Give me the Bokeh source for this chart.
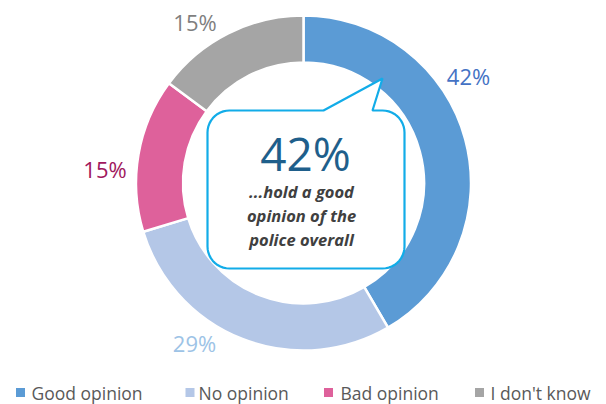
import numpy as np
from bokeh.plotting import figure
from bokeh.models import Range1d, ColumnDataSource
from bokeh.core.properties import value
from bokeh.embed import file_html
from bokeh.resources import INLINE

# ---- data ----
categories = ["Good opinion", "No opinion", "Bad opinion", "I don't know"]
values = [42, 29, 15, 15]
labels = ["42%", "29%", "15%", "15%"]
slice_colors = ["#5B9BD5", "#B4C7E7", "#DE619B", "#A5A5A5"]
label_colors = ["#4472C4", "#9DC3E6", "#A0185E", "#7F7F7F"]
headline = "42%"
caption_lines = ["...hold a good", "opinion of the", "police overall"]

W, H = 606, 404
def Y(py):  # pixel-from-top -> data y
    return H - py

p = figure(width=W, height=H, x_range=Range1d(0, W), y_range=Range1d(0, H),
           output_backend="svg", toolbar_location=None,
           x_axis_location=None, y_axis_location=None, min_border=0)
p.outline_line_color = None
p.xgrid.visible = False
p.ygrid.visible = False
p.background_fill_color = "white"

# ---- donut ----
cx, cy = 303, Y(182.5)
r_out, r_in = 167.5, 120.5
vals = np.array(values, dtype=float)
frac = vals / vals.sum()
cum = np.concatenate([[0], np.cumsum(frac)])
start = np.pi / 2 - cum[:-1] * 2 * np.pi
end = np.pi / 2 - cum[1:] * 2 * np.pi
src = ColumnDataSource(dict(start=start, end=end, color=slice_colors, cat=categories))
p.annular_wedge(x=cx, y=cy, inner_radius=r_in, outer_radius=r_out,
                start_angle="start", end_angle="end", direction="clock",
                fill_color="color", line_color="white", line_width=2.5, source=src)

# ---- slice labels ----
label_pos = [(468, 75), (194, 342), (104.5, 168), (194.5, 21)]
p.text(x=[q[0] for q in label_pos], y=[Y(q[1]) for q in label_pos], text=labels,
       text_color=label_colors, text_font=value("Open Sans"), text_font_size="22px",
       text_align="center", text_baseline="middle")

# ---- speech bubble ----
x0, x1, y0, y1, rr = 207, 404, 110, 268, 22
def arc(cxp, cyp, a0, a1, n=12):
    t = np.linspace(a0, a1, n)
    return list(cxp + rr * np.cos(t)), list(cyp + rr * np.sin(t))
xs, ys = [], []
xs += [x0 + rr, 323, 382, 372]; ys += [y0, y0, 78, y0]
ax, ay = arc(x1 - rr, y0 + rr, -np.pi / 2, 0); xs += ax; ys += ay
ax, ay = arc(x1 - rr, y1 - rr, 0, np.pi / 2); xs += ax; ys += ay
ax, ay = arc(x0 + rr, y1 - rr, np.pi / 2, np.pi); xs += ax; ys += ay
ax, ay = arc(x0 + rr, y0 + rr, np.pi, 1.5 * np.pi); xs += ax; ys += ay
p.patch(x=xs, y=[Y(v) for v in ys], fill_color="white", line_color="#12ACE8", line_width=2.2)

p.text(x=[305], y=[Y(152)], text=[headline], text_color="#1F5F8B",
       text_font=value("Open Sans"), text_font_size="46px",
       text_align="center", text_baseline="middle")
p.text(x=[301, 301, 301], y=[Y(191), Y(215), Y(239)], text=caption_lines,
       text_color="#404040", text_font=value("Open Sans"), text_font_size="16.5px",
       text_font_style="bold italic", text_align="center", text_baseline="middle")

# ---- legend (manual) ----
leg_marker_x = [20, 189.5, 328, 479]
leg_text_x = [31, 198, 340, 490]
leg_y = Y(392)
p.scatter(x=leg_marker_x, y=[leg_y] * 4, marker="square", size=9,
          fill_color=slice_colors, line_color=None)
p.text(x=leg_text_x, y=[leg_y] * 4, text=categories, text_color="#595959",
       text_font=value("Open Sans"), text_font_size="17.5px",
       text_align="left", text_baseline="middle")

open("out.html", "w").write(file_html(p, INLINE))
